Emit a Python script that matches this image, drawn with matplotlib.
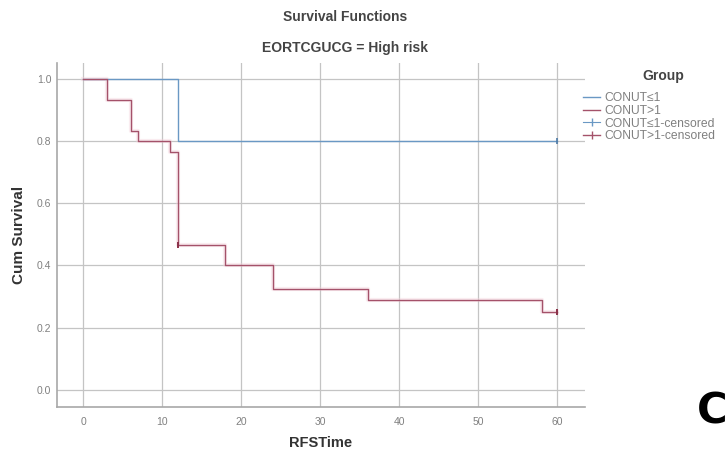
import matplotlib
matplotlib.use("Agg")
import matplotlib.pyplot as plt
from matplotlib.lines import Line2D

plt.rcParams['font.family'] = ['Liberation Sans', 'DejaVu Sans']

# Kaplan-Meier step data (time, survival) for each group
low_times = [0, 12, 60]
low_surv = [1.0, 0.8, 0.8]
low_censor_t = [60]
low_censor_s = [0.8]

high_times = [0, 3, 6, 7, 11, 12, 18, 24, 36, 58, 60]
high_surv = [1.0, 0.933, 0.833, 0.8, 0.764, 0.467, 0.4, 0.324, 0.288, 0.252, 0.252]
high_censor_t = [12, 60]
high_censor_s = [0.467, 0.252]

blue = '#6a98c4'
red = '#a4526a'
grid_c = '#c4c4c4'

fig = plt.figure(figsize=(7.27, 4.53), dpi=100)
ax = fig.add_axes([57 / 727, 1 - 407 / 453, (585 - 57) / 727, (407 - 63) / 453])

ax.step(low_times, low_surv, where='post', color=blue, lw=1.0, zorder=3)
# soft halo under the red curve
ax.step(high_times, high_surv, where='post', color='#f4d0da', lw=3.0, alpha=0.4, zorder=2)
ax.step(high_times, high_surv, where='post', color=red, lw=1.0, zorder=3)
ax.plot(low_censor_t, low_censor_s, ls='none', marker='|', ms=5, mew=1.2, color='#4d7aa6', zorder=4)
ax.plot(high_censor_t, high_censor_s, ls='none', marker='|', ms=5, mew=1.4, color='#8a3048', zorder=4)

ax.set_xlim(-3.3, 63.5)
ax.set_ylim(-0.055, 1.051)
ax.set_xticks(range(0, 61, 10))
ax.set_yticks([0.0, 0.2, 0.4, 0.6, 0.8, 1.0])
ax.set_yticklabels(['0.0', '0.2', '0.4', '0.6', '0.8', '1.0'])
ax.grid(True, color=grid_c, lw=0.9, zorder=0)
ax.set_axisbelow(True)
for side in ['top', 'right']:
    ax.spines[side].set_visible(False)
for side in ['left', 'bottom']:
    ax.spines[side].set_color('#a8a8a8')
    ax.spines[side].set_linewidth(1.2)
ax.tick_params(axis='both', length=0, labelcolor='#808080', labelsize=7.5)
ax.tick_params(axis='x', pad=7)
ax.tick_params(axis='y', pad=4)

ax.set_xlabel('RFSTime', fontsize=10.5, fontweight='bold', color='#333333', labelpad=7)
ax.set_ylabel('Cum Survival', fontsize=11, fontweight='bold', color='#333333', labelpad=8)

fig.text(0.4745, 1 - 17 / 453, 'Survival Functions', ha='center', va='center',
         fontsize=10, fontweight='bold', color='#444444')
fig.text(0.4745, 1 - 48 / 453, 'EORTCGUCG = High risk', ha='center', va='center',
         fontsize=10, fontweight='bold', color='#444444')

# legend heading drawn separately so it can sit right of centre
fig.text(663 / 727, 1 - 76 / 453, 'Group', ha='center', va='center',
         fontsize=10, fontweight='bold', color='#444444')

handles = [
    Line2D([], [], color=blue, lw=1.0),
    Line2D([], [], color=red, lw=1.0),
    Line2D([], [], color=blue, lw=0.8, marker='|', ms=6),
    Line2D([], [], color=red, lw=1.0, marker='|', ms=6),
]
labels = ['CONUT\u22641', 'CONUT>1', 'CONUT\u22641-censored', 'CONUT>1-censored']
leg = fig.legend(handles, labels, loc='upper left', bbox_to_anchor=(581 / 727, 1 - 90 / 453),
                 frameon=False, fontsize=8.7, handlelength=1.4, handletextpad=0.3,
                 labelspacing=0.05, borderaxespad=0, borderpad=0.2)
for t in leg.get_texts():
    t.set_color('#808080')

fig.text(712 / 727, 1 - 411 / 453, 'C', ha='center', va='center', fontsize=30,
         fontweight='bold', family='DejaVu Sans', color='black')

fig.savefig('out.png', dpi=100)
